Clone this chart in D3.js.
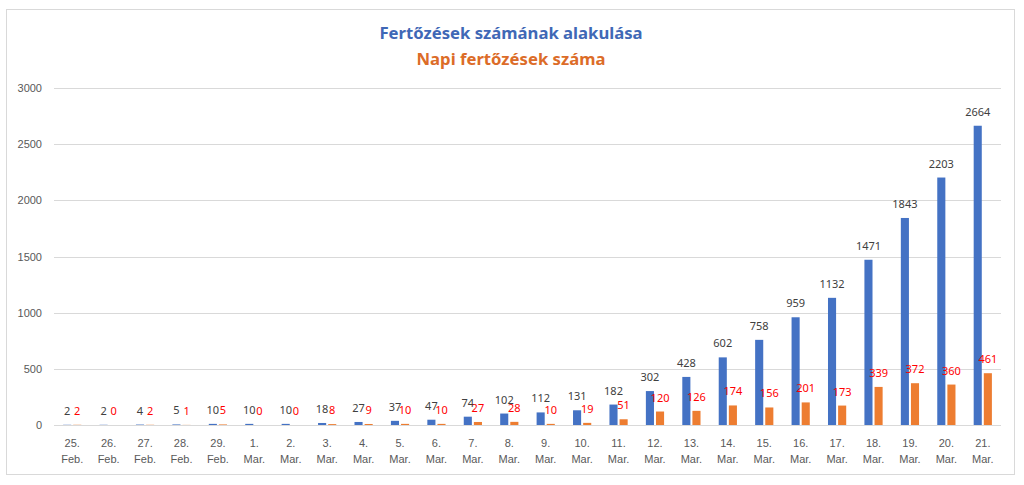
<!DOCTYPE html>
<html>
  <head>
    <meta charset="utf-8">
    <style>
      body {
        margin: 0;
        background: #fff;
        font-family: "Noto Sans", "Open Sans", sans-serif;
      }
      .grid line { stroke: #d9d9d9; stroke-width: 1px; }
      .axis text { fill: #595959; font-size: 11px; }
      .lbl-total { fill: #404040; font-size: 11px; }
      .lbl-daily { fill: #ff0000; font-size: 11px; }
    </style>
  </head>
  <body>
    <script src="https://d3js.org/d3.v7.min.js"></script>
    <script>
      // data
      var days = ["25.", "26.", "27.", "28.", "29.", "1.", "2.", "3.", "4.", "5.", "6.", "7.", "8.",
                  "9.", "10.", "11.", "12.", "13.", "14.", "15.", "16.", "17.", "18.", "19.", "20.", "21."];
      var months = ["Feb.", "Feb.", "Feb.", "Feb.", "Feb.", "Mar.", "Mar.", "Mar.", "Mar.", "Mar.", "Mar.", "Mar.", "Mar.",
                    "Mar.", "Mar.", "Mar.", "Mar.", "Mar.", "Mar.", "Mar.", "Mar.", "Mar.", "Mar.", "Mar.", "Mar.", "Mar."];
      var totalCases = [2, 2, 4, 5, 10, 10, 10, 18, 27, 37, 47, 74, 102,
                        112, 131, 182, 302, 428, 602, 758, 959, 1132, 1471, 1843, 2203, 2664];
      var dailyCases = [2, 0, 2, 1, 5, 0, 0, 8, 9, 10, 10, 27, 28,
                        10, 19, 51, 120, 126, 174, 156, 201, 173, 339, 372, 360, 461];
      var yTicks = [0, 500, 1000, 1500, 2000, 2500, 3000];
      var seriesKeys = ["total", "daily"];
      var seriesColors = ["#4472C4", "#ED7D31"];

      var W = 1024, H = 485;
      var plot = {left: 54, right: 1001, top: 88, bottom: 425};

      var svg = d3.select("body").append("svg")
        .attr("width", W)
        .attr("height", H);

      // chart frame
      svg.append("rect")
        .attr("x", 6.5).attr("y", 9.5)
        .attr("width", 1008).attr("height", 465)
        .attr("fill", "#fff")
        .attr("stroke", "#d9d9d9");

      var rows = days.map((d, i) => ({key: i, day: d, month: months[i], total: totalCases[i], daily: dailyCases[i]}));

      var x0 = d3.scaleBand()
        .domain(rows.map(d => d.key))
        .range([plot.left, plot.right])
        .paddingInner(0.5)
        .paddingOuter(0.25);

      var x1 = d3.scaleBand()
        .domain(seriesKeys)
        .range([0, x0.bandwidth()])
        .paddingInner(0.2);

      var y = d3.scaleLinear()
        .domain([0, 3000])
        .range([plot.bottom, plot.top]);

      var color = d3.scaleOrdinal().domain(seriesKeys).range(seriesColors);

      // gridlines
      svg.append("g")
        .attr("class", "grid")
        .selectAll("line")
        .data(yTicks)
        .join("line")
          .attr("x1", plot.left)
          .attr("x2", plot.right)
          .attr("y1", d => Math.round(y(d)) + 0.5)
          .attr("y2", d => Math.round(y(d)) + 0.5);

      // y axis labels
      var yAxis = d3.axisLeft(y).tickValues(yTicks).tickFormat(d3.format("d")).tickSize(0).tickPadding(12);
      svg.append("g")
        .attr("class", "axis")
        .attr("transform", "translate(" + plot.left + ",0)")
        .call(yAxis)
        .call(g => g.select(".domain").remove());

      // x axis labels (two lines)
      var xAxis = d3.axisBottom(x0).tickSize(0).tickFormat("");
      var xg = svg.append("g")
        .attr("class", "axis")
        .attr("transform", "translate(0," + plot.bottom + ")")
        .call(xAxis);
      xg.select(".domain").remove();
      xg.selectAll(".tick text").remove();
      xg.selectAll(".tick").each(function(k) {
        var t = d3.select(this).append("text")
          .attr("text-anchor", "middle")
          .attr("fill", "#595959");
        t.append("tspan").attr("x", 0).attr("y", 22).text(rows[k].day);
        t.append("tspan").attr("x", 0).attr("y", 38).text(rows[k].month);
      });

      // bars
      var groups = svg.append("g")
        .selectAll("g")
        .data(rows)
        .join("g")
          .attr("transform", d => "translate(" + x0(d.key) + ",0)");

      groups.selectAll("rect")
        .data(d => seriesKeys.map(k => ({key: k, value: d[k]})))
        .join("rect")
          .attr("x", d => x1(d.key))
          .attr("width", x1.bandwidth())
          .attr("y", d => y(d.value))
          .attr("height", d => y(0) - y(d.value))
          .attr("fill", d => color(d.key));

      // value labels
      groups.selectAll("text")
        .data(d => seriesKeys.map(k => ({key: k, value: d[k]})))
        .join("text")
          .attr("class", d => d.key === "total" ? "lbl-total" : "lbl-daily")
          .attr("text-anchor", "middle")
          .attr("x", d => x1(d.key) + x1.bandwidth() / 2)
          .attr("y", d => y(d.value) - 10)
          .text(d => d.value);

      // titles
      svg.append("text")
        .attr("x", 511).attr("y", 39)
        .attr("text-anchor", "middle")
        .attr("font-weight", "bold")
        .attr("font-size", 16.7)
        .attr("fill", "#3F68B6")
        .text("Fertőzések számának alakulása");

      svg.append("text")
        .attr("x", 511).attr("y", 65)
        .attr("text-anchor", "middle")
        .attr("font-weight", "bold")
        .attr("font-size", 16.7)
        .attr("fill", "#DC6C28")
        .text("Napi fertőzések száma");
    </script>
  </body>
</html>
